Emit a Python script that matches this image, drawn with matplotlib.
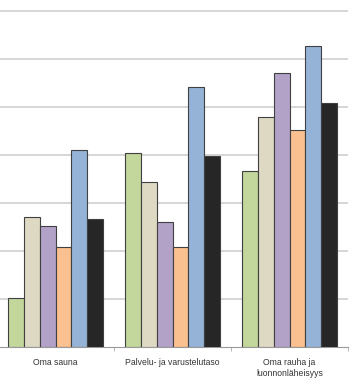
import numpy as np
import matplotlib.pyplot as plt

categories = ['Oma sauna', 'Palvelu- ja varustelutaso', 'Oma rauha ja\nluonnonläheisyys']
series_1 = [10.2, 40.4, 36.6]
series_2 = [26.9, 34.3, 47.9]
series_3 = [25.2, 26.0, 56.9]
series_4 = [20.8, 20.7, 45.2]
series_5 = [40.9, 54.0, 62.6]
series_6 = [26.6, 39.7, 50.7]

series = [series_1, series_2, series_3, series_4, series_5, series_6]
colors = ['#c3d69b', '#ddd9c3', '#b3a2c7', '#fac090', '#95b3d7', '#262626']

plt.rcParams['font.family'] = ['Liberation Sans', 'DejaVu Sans']

fig = plt.figure(figsize=(3.58, 3.86), dpi=100)
ax = fig.add_axes([-3 / 358, 39.5 / 386, 351 / 358, 346.5 / 386])

x = np.arange(len(categories))
w = 0.134
for i, (vals, c) in enumerate(zip(series, colors)):
    ax.bar(x + (i - 2.5) * w, vals, width=w, color=c,
           edgecolor='#404040', linewidth=0.8, zorder=3)

ax.set_xlim(-0.5, 2.5)
ax.set_ylim(0, 72.2)
ax.set_yticks(np.arange(10, 71, 10))
ax.yaxis.grid(True, color='#d0d0d0', linewidth=1.2, zorder=0)
ax.tick_params(axis='y', left=False, labelleft=False)

ax.set_xticks(x)
labels = ax.set_xticklabels(categories, fontsize=6.2, color='#333333')
for lb in labels:
    lb.set_linespacing(1.35)
ax.set_xticks([-0.5, 0.5, 1.5, 2.5], minor=True)
ax.tick_params(axis='x', which='major', length=0, pad=8)
ax.tick_params(axis='x', which='minor', length=3, color='#aaaaaa', direction='out')

for s in ['top', 'right', 'left']:
    ax.spines[s].set_visible(False)
ax.spines['bottom'].set_color('#999999')
ax.spines['bottom'].set_linewidth(0.8)

fig.savefig('out.png', dpi=100)
